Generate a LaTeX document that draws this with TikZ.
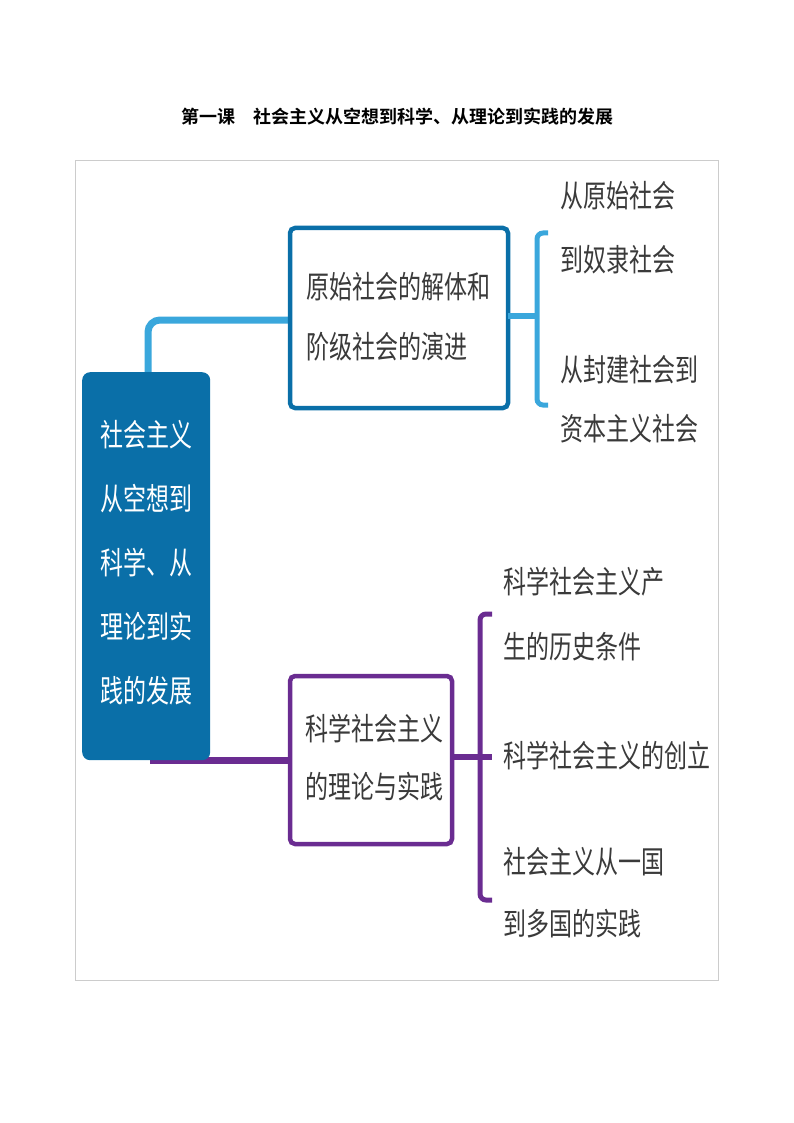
\documentclass[tikz,border=0pt]{standalone}
\usepackage{fontspec}
\setmainfont{Noto Sans CJK SC}
\newfontfamily\cjkb{Noto Sans CJK SC Bold}
\usepackage{graphicx}
\definecolor{dblue}{HTML}{0A6FA8}
\definecolor{lblue}{HTML}{3AA7DC}
\definecolor{purp}{HTML}{6A2C91}
\definecolor{txt}{HTML}{3A3A3A}
\newcommand{\tl}[1]{\scalebox{1}[1.35]{#1}}
\begin{document}
\begin{tikzpicture}[x=1pt,y=-1pt,
  leaf/.style={anchor=north west,align=left,inner sep=0pt,text=txt,font=\fontsize{23}{62}\selectfont},
  mid/.style={draw=#1,line width=4.5pt,rounded corners=5pt,fill=white},
  mtext/.style={anchor=north west,align=left,inner sep=0pt,text=txt,font=\fontsize{23}{58}\selectfont}]
\useasboundingbox (0,0) rectangle (794,1123);
\node[font=\cjkb\fontsize{18}{20}\selectfont] (title) at (397,117) {第一课\quad 社会主义从空想到科学、从理论到实践的发展};
\draw[gray!40,line width=0.8pt] (75,160) rectangle (718,980);
% connectors
\coordinate (rt) at (148,372);
\coordinate (rb) at (150,760);
\draw[lblue,line width=7pt,rounded corners=12pt] (rt) |- (290,320) coordinate (tb);
\draw[purp,line width=7pt] (rb) -- (290,760);
% root
\node[fill=dblue,rounded corners=8pt,minimum width=128pt,minimum height=388pt,anchor=north west] (root) at (82,372) {};
\node[anchor=north west,align=left,inner sep=0pt,text=white,font=\fontsize{23}{64}\selectfont] (roott) at (100,420) {\tl{社会主义}\\\tl{从空想到}\\\tl{科学、从}\\\tl{理论到实}\\\tl{践的发展}};
% top box
\draw[mid=dblue] (290,228) rectangle (508,408);
\node[mtext,font=\fontsize{23}{60}\selectfont] (topt) at (306,272) {\tl{原始社会的解体和}\\\tl{阶级社会的演进}};
\coordinate (tr) at (508,316);
\draw[lblue,line width=6pt] (tr) -- (537,316);
\draw[lblue,line width=5pt,rounded corners=6pt] (548,233) -- (537,233) -- (537,405) -- (548,405);
\node[leaf,font=\fontsize{23}{64}\selectfont] (l1) at (560,181) {\tl{从原始社会}\\\tl{到奴隶社会}};
\node[leaf,font=\fontsize{23}{59}\selectfont] (l2) at (560,355) {\tl{从封建社会到}\\\tl{资本主义社会}};
% bottom box
\draw[mid=purp] (290,676) rectangle (452,844);
\node[mtext] (bott) at (305,714) {\tl{科学社会主义}\\\tl{的理论与实践}};
\coordinate (br) at (452,757);
\draw[purp,line width=6pt] (br) -- (492,757);
\draw[purp,line width=5pt,rounded corners=6pt] (492,614) -- (480,614) -- (480,900) -- (492,900);
\node[leaf,font=\fontsize{23}{65}\selectfont] (l3) at (503,567) {\tl{科学社会主义产}\\\tl{生的历史条件}};
\node[leaf] (l4) at (503,741) {\tl{科学社会主义的创立}};
\node[leaf] (l5) at (503,847) {\tl{社会主义从一国}\\\tl{到多国的实践}};
\end{tikzpicture}
\end{document}
